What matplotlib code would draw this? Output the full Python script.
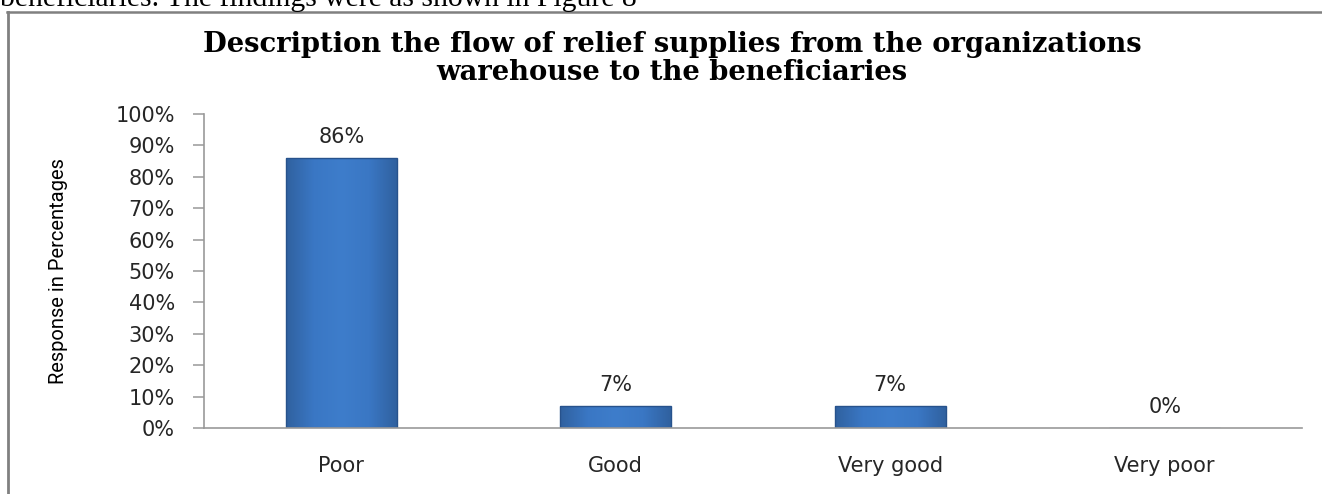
import matplotlib
matplotlib.use("Agg")
import numpy as np
import matplotlib.pyplot as plt
from matplotlib.lines import Line2D
from matplotlib.ticker import FixedLocator
from matplotlib.colors import LinearSegmentedColormap

categories = ["Poor", "Good", "Very good", "Very poor"]
values = [86, 7, 7, 0]
value_labels = ["86%", "7%", "7%", "0%"]
y_ticks = [0, 10, 20, 30, 40, 50, 60, 70, 80, 90, 100]
y_tick_labels = ["0%", "10%", "20%", "30%", "40%", "50%", "60%", "70%", "80%", "90%", "100%"]
title_lines = ["Description the flow of relief supplies from the organizations",
               "warehouse to the beneficiaries"]
y_label = "Response in Percentages"
top_text = "beneficiaries. The findings were as shown in Figure 8"

W, H = 1322, 494
fig = plt.figure(figsize=(W / 100, H / 100), dpi=100)
fig.patch.set_facecolor("white")

def fx(px):
    return px / W

def fy(py):
    return 1 - py / H

# frame of the embedded chart (top and left border)
fig.add_artist(Line2D([fx(7), 1.0], [fy(12.5), fy(12.5)], color="#808080", lw=1.8,
                      transform=fig.transFigure))
fig.add_artist(Line2D([fx(8), fx(8)], [fy(12.5), 0], color="#808080", lw=2.0,
                      transform=fig.transFigure))

# cut-off text from the document above
fig.text(fx(0), fy(6), top_text, fontfamily="Liberation Serif", fontsize=21.3,
         ha="left", va="baseline", color="black")

# title
for i, line in enumerate(title_lines):
    fig.text(fx(672), fy(52 + 28 * i), line, fontfamily="DejaVu Serif",
             fontweight="bold", fontsize=19.7, ha="center", va="baseline")

ax = fig.add_axes([fx(204), fy(428), fx(1302) - fx(204), fy(114) - fy(428)])
x = list(range(len(categories)))
bars = ax.bar(x, values, width=0.404, color="#3C79C7", edgecolor="none",
              linewidth=0, zorder=3)

# bevel-like shading across each bar
cmap = LinearSegmentedColormap.from_list(
    "barshade", ["#30619F", "#3A77C4", "#3E7DCB", "#3A77C4", "#30619F"])
grad = np.linspace(0, 1, 256).reshape(1, -1)
for b in bars:
    h = b.get_height()
    if h <= 0:
        continue
    x0 = b.get_x()
    w = b.get_width()
    im = ax.imshow(grad, extent=[x0, x0 + w, 0, h], aspect="auto", cmap=cmap,
                   zorder=3.2, interpolation="bilinear")
    im.set_clip_path(b)

# outline on top of the shading
ax.bar(x, values, width=0.404, color="none", edgecolor="#27528C", linewidth=1.0,
       zorder=3.4)

ax.set_xlim(-0.5, len(categories) - 0.5)
ax.set_ylim(0, 100)
ax.yaxis.set_major_locator(FixedLocator(y_ticks))
ax.set_yticklabels(y_tick_labels)
ax.set_xticks(x)
ax.set_xticklabels(categories)

for s in ["top", "right"]:
    ax.spines[s].set_visible(False)
for s in ["left", "bottom"]:
    ax.spines[s].set_color("#999999")
    ax.spines[s].set_linewidth(1.2)
    ax.spines[s].set_zorder(4)

ax.tick_params(axis="y", length=8, width=1.1, color="#999999", pad=13,
               labelsize=15, labelcolor="#262626")
ax.tick_params(axis="x", length=0, pad=20, labelsize=15, labelcolor="#262626")

for xi, v, lab in zip(x, values, value_labels):
    ax.annotate(lab, (xi, v), xytext=(0, 8), textcoords="offset points",
                ha="center", va="bottom", fontsize=15, color="#262626")

ax.set_ylabel(y_label, fontfamily="Roboto", fontsize=14.5, color="black")
ax.yaxis.set_label_coords((68 - 204) / (1302 - 204), 0.5)

fig.savefig("out.png", dpi=100, facecolor="white")
